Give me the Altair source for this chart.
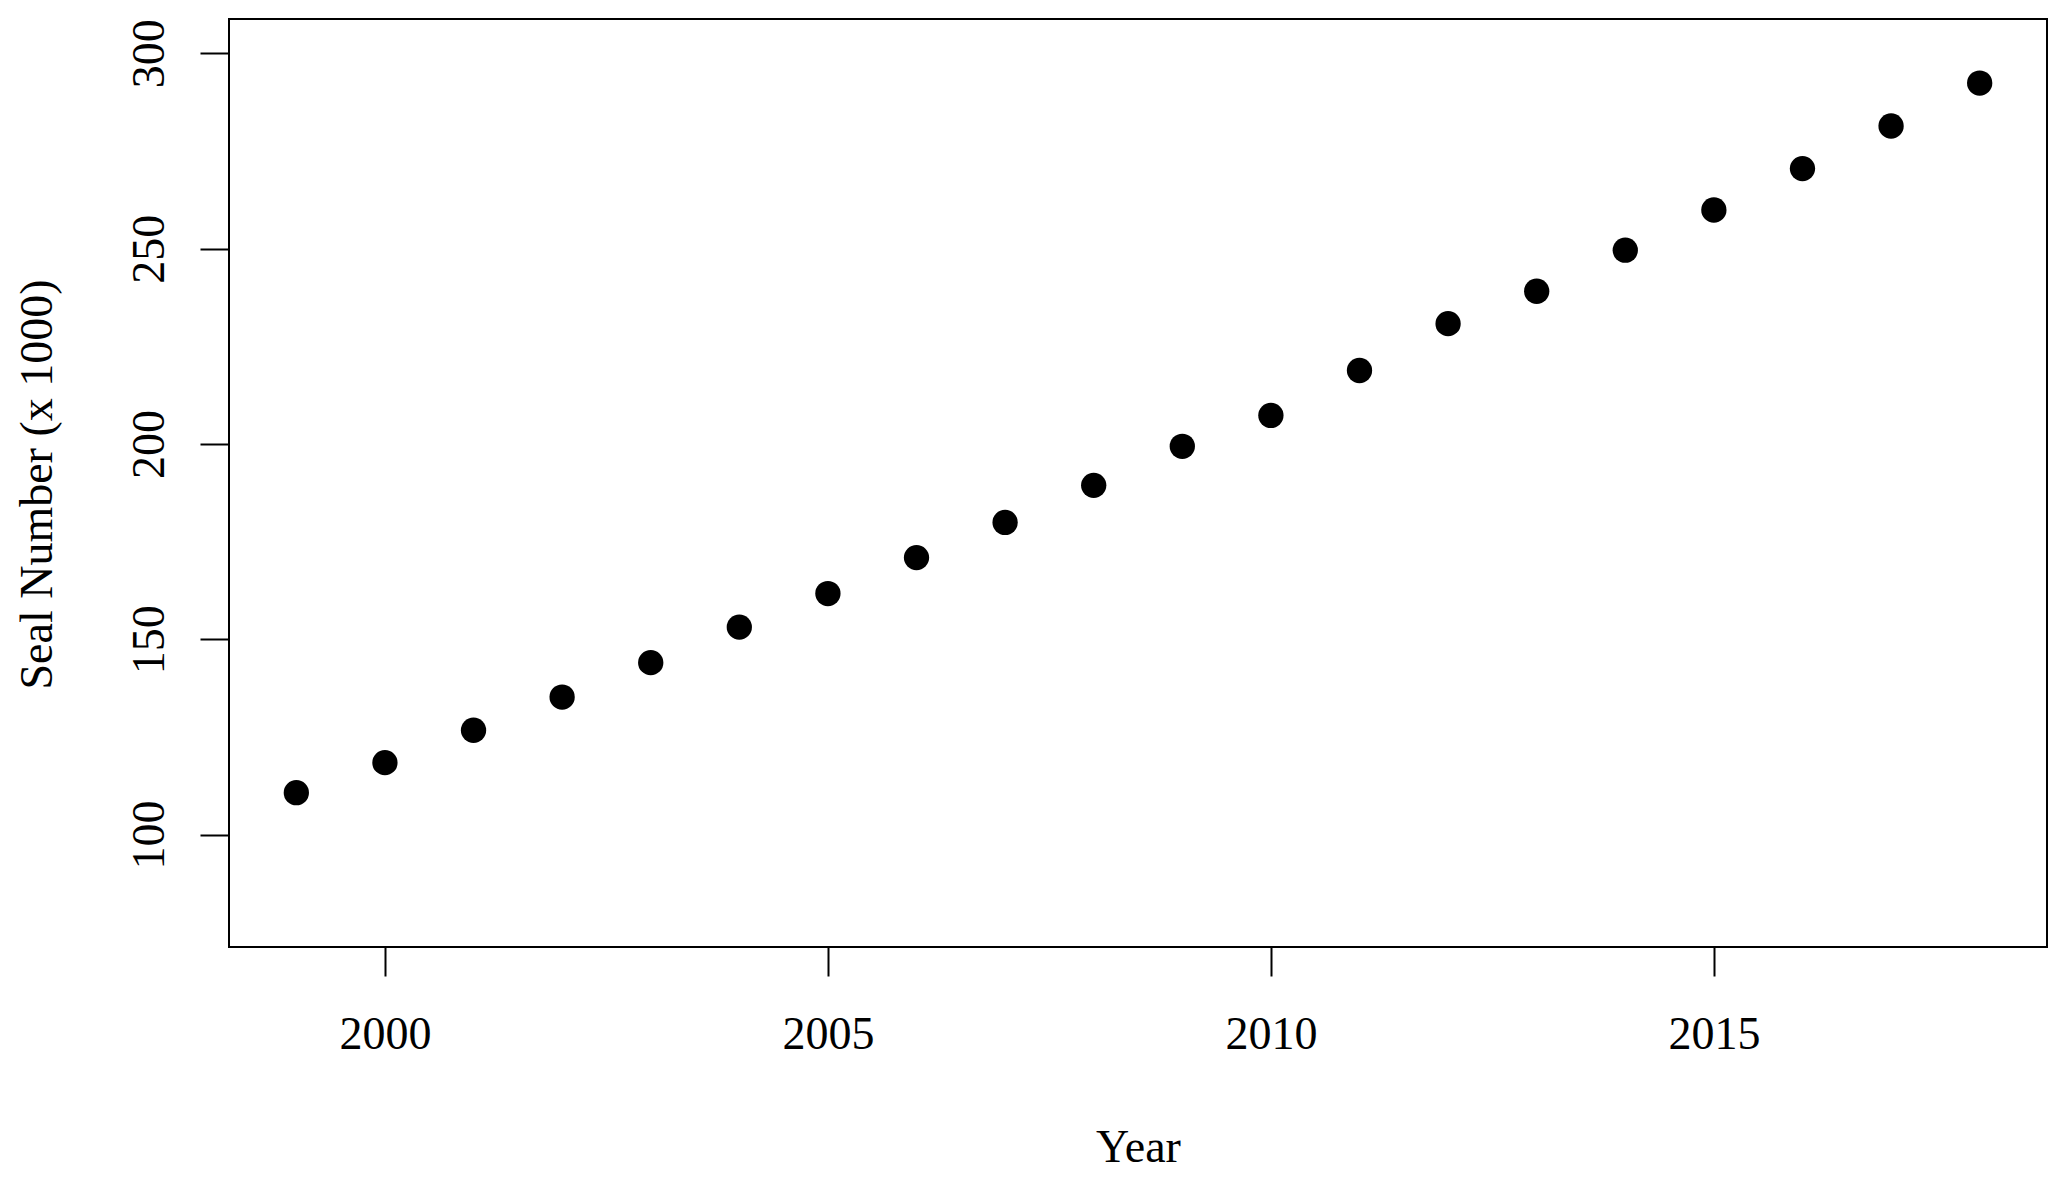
import altair as alt
import pandas as pd

years = [1999, 2000, 2001, 2002, 2003, 2004, 2005, 2006, 2007, 2008,
         2009, 2010, 2011, 2012, 2013, 2014, 2015, 2016, 2017, 2018]
seals = [110.7, 118.4, 126.7, 135.2, 144.0, 153.1, 161.7, 170.9, 179.9, 189.4,
         199.4, 207.3, 218.8, 230.8, 239.1, 249.6, 259.9, 270.5, 281.4, 292.4]
x_ticks = [2000, 2005, 2010, 2015]
y_ticks = [100, 150, 200, 250, 300]

df = pd.DataFrame({"Year": years, "Seals": seals})

FONT = "Liberation Serif"
FS = 46

chart = (
    alt.Chart(df)
    .mark_circle(color="black", opacity=1, size=640)
    .encode(
        x=alt.X(
            "Year:Q",
            scale=alt.Scale(domain=[1998.24, 2018.76], nice=False, zero=False),
            axis=alt.Axis(
                values=x_ticks, format="d", title="Year", grid=False, domain=False,
                ticks=True, tickSize=29, tickWidth=2, tickColor="black",
                labelFont=FONT, labelFontSize=FS, labelColor="black",
                labelBaseline="alphabetic", labelPadding=72, labelFlush=False,
                titleFont=FONT, titleFontSize=FS, titleFontWeight="normal",
                titleColor="black", titleBaseline="alphabetic", titleY=214,
            ),
        ),
        y=alt.Y(
            "Seals:Q",
            scale=alt.Scale(domain=[71.2, 308.8], nice=False, zero=False),
            axis=alt.Axis(
                values=y_ticks, format="d", title="Seal Number (x 1000)",
                grid=False, domain=False,
                ticks=True, tickSize=29, tickWidth=2, tickColor="black",
                labelFont=FONT, labelFontSize=FS, labelColor="black",
                labelAngle=270, labelAlign="center", labelBaseline="alphabetic",
                labelPadding=37, labelFlush=False,
                titleFont=FONT, titleFontSize=FS, titleFontWeight="normal",
                titleColor="black", titleAngle=270, titleAlign="center",
                titleBaseline="alphabetic", titleX=-178, titleY=465,
            ),
        ),
    )
    .properties(
        width=1818,
        height=928,
        background="white",
        padding={"left": 221, "top": 11, "right": 12, "bottom": 224},
        autosize=alt.AutoSizeParams(type="none"),
    )
    .configure_view(stroke="black", strokeWidth=2, fill="white")
)

chart.save("out.html", embed_options={"renderer": "svg", "actions": False})
